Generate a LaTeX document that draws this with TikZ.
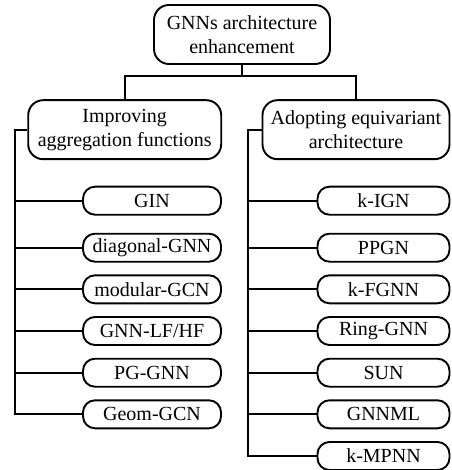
\documentclass[tikz,border=0pt]{standalone}
\usepackage{fontspec}
\setmainfont{Liberation Serif}
\begin{document}
\begin{tikzpicture}[x=1pt,y=-1pt,
  bigbox/.style={draw, line width=1.9pt, rounded corners=15pt, align=center, inner sep=0pt,
    minimum height=59pt, font=\fontsize{20}{24}\selectfont},
  leafbox/.style={draw, line width=1.9pt, rounded corners=12pt, inner sep=0pt,
    minimum height=28pt, font=\fontsize{20}{24}\selectfont},
  lleaf/.style={leafbox, minimum width=138pt},
  rleaf/.style={leafbox, minimum width=132pt},
  conn/.style={draw, line width=1.9pt}]
\useasboundingbox (0,0) rectangle (451,470);
\node[bigbox, minimum width=176pt] (root) at (242,34.5) {GNNs architecture\\enhancement};
\node[bigbox, minimum width=193pt] (L) at (124.7,129.7) {Improving\\aggregation functions};
\node[bigbox, minimum width=187pt] (R) at (356,129.7) {Adopting equivariant\\architecture};
\coordinate (mid) at (242,76);
\draw[conn] (root.south) -- (mid);
\draw[conn] (mid) -| (L.north);
\draw[conn] (mid) -| (R.north);
% left leaves
\node[lleaf] (l1) at (152,200.7) {GIN};
\node[lleaf] (l2) at (152,247.7) {diagonal-GNN};
\node[lleaf] (l3) at (152,289.3) {modular-GCN};
\node[lleaf] (l4) at (152,331) {GNN-LF/HF};
\node[lleaf] (l5) at (152,372.7) {PG-GNN};
\node[lleaf] (l6) at (152,414.3) {Geom-GCN};
% right leaves
\node[rleaf] (r1) at (383.5,200.7) {k-IGN};
\node[rleaf] (r2) at (383.5,247.7) {PPGN};
\node[rleaf] (r3) at (383.5,289.3) {k-FGNN};
\node[rleaf] (r4) at (383.5,331) {Ring-GNN};
\node[rleaf] (r5) at (383.5,372.7) {SUN};
\node[rleaf] (r6) at (383.5,414.3) {GNNML};
\node[rleaf] (r7) at (383.5,456) {k-MPNN};
\coordinate (lx) at (15,0);
\coordinate (rx) at (248.3,0);
\draw[conn] (L.west) -| (lx |- l6.west) -- (l6.west);
\foreach \n in {l1,l2,l3,l4,l5} \draw[conn] (lx |- \n.west) -- (\n.west);
\draw[conn] (R.west) -| (rx |- r7.west) -- (r7.west);
\foreach \n in {r1,r2,r3,r4,r5,r6} \draw[conn] (rx |- \n.west) -- (\n.west);
\end{tikzpicture}
\end{document}
